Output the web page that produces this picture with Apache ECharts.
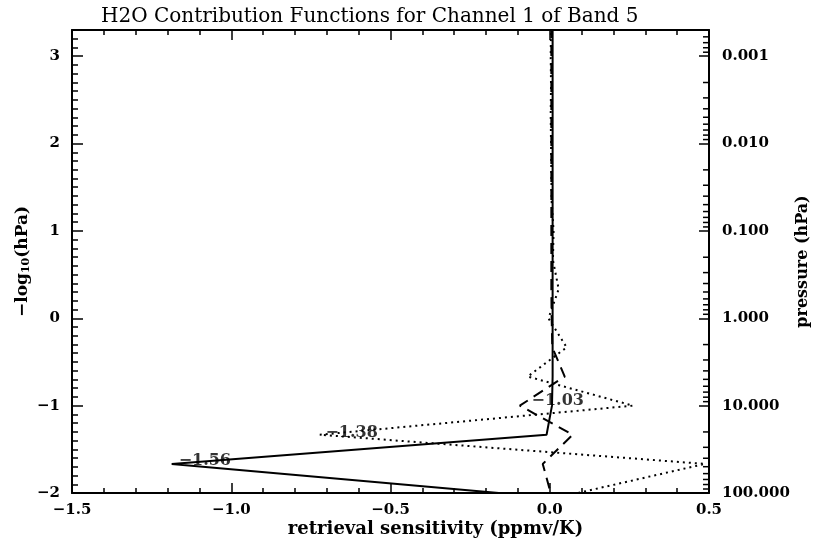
<!DOCTYPE html>
<html>
<head>
<meta charset="utf-8">
<script src="https://cdn.jsdelivr.net/npm/echarts@6/dist/echarts.min.js"></script>
<style>
  html, body { margin: 0; padding: 0; background: #fff; }
  #chart { width: 816px; height: 544px; }
</style>
</head>
<body>
<div id="chart"></div>
<script>
// -log10(p) levels, top to bottom
const levels = [3.333, 3.0, 2.667, 2.333, 2.0, 1.667, 1.333, 1.0, 0.667, 0.333, 0.0, -0.333, -0.667, -1.0, -1.333, -1.667, -2.0];

// sensitivity (ppmv/K) at each level
const solidX  = [0.009, 0.009, 0.009, 0.009, 0.009, 0.009, 0.009, 0.009, 0.009, 0.009, 0.009, 0.009, 0.009, 0.007, -0.01, -1.187, -0.16];
const dashedX = [0.005, 0.005, 0.005, 0.005, 0.005, 0.005, 0.005, 0.005, 0.005, 0.005, 0.006, 0.008, 0.047, -0.094, 0.072, -0.022, 0.003];
const dottedX = [0.004, 0.003, 0.004, 0.003, 0.004, 0.005, 0.006, 0.012, 0.01, 0.028, -0.004, 0.053, -0.069, 0.261, -0.722, 0.487, 0.088];

// peak annotations
const annoText = ['-1.56', '-1.38', '-1.03'];
const annoX = [-1.083, -0.622, 0.025];
const annoY = [-1.632, -1.31, -0.943];

const xMin = -1.5, xMax = 0.5;
const yMin = -2, yMax = 3.3;

// log minor ticks for the pressure axis (2..9 in each decade)
const pressureDecades = [0.0001, 0.001, 0.01, 0.1, 1, 10];
const logTicks = [];
pressureDecades.forEach(d => {
  for (let k = 2; k <= 9; k++) {
    const v = -Math.log10(k * d);
    if (v >= yMin && v <= yMax) logTicks.push(v);
  }
});

const minus = s => String(s).replace('-', '\u2212');
const serif = 'DejaVu Serif';
const pair = xs => xs.map((x, i) => [x, levels[i]]);

const chart = echarts.init(document.getElementById('chart'));

chart.setOption({
  backgroundColor: '#fff',
  animation: false,
  title: {
    text: 'H2O Contribution Functions for Channel 1 of Band 5',
    left: 96,
    top: 2,
    textStyle: { fontFamily: serif, fontSize: 20, fontWeight: 'normal', color: '#000' }
  },
  grid: { left: 72, right: 107, top: 30, bottom: 51, containLabel: false, outerBoundsMode: 'none' },
  xAxis: [
    {
      type: 'value', min: xMin, max: xMax, interval: 0.5, position: 'bottom',
      name: 'retrieval sensitivity (ppmv/K)', nameLocation: 'middle', nameGap: 27, nameMoveOverlap: false,
      nameTextStyle: { fontFamily: serif, fontSize: 18, fontWeight: 'bold', color: '#000', padding: [0, 0, 0, 90] },
      axisLine: { onZero: false, lineStyle: { color: '#000', width: 2 } },
      axisTick: { inside: true, length: 10, lineStyle: { color: '#000', width: 1.5 } },
      minorTick: { show: true, splitNumber: 5, length: 5, lineStyle: { color: '#000', width: 1.5 } },
      axisLabel: { fontFamily: serif, fontSize: 15, fontWeight: 'bold', color: '#000', margin: 10,
        formatter: v => minus(v.toFixed(1)) },
      splitLine: { show: false }
    },
    {
      type: 'value', min: xMin, max: xMax, interval: 0.5, position: 'top',
      axisLine: { onZero: false, lineStyle: { color: '#000', width: 2 } },
      axisTick: { inside: true, length: 10, lineStyle: { color: '#000', width: 1.5 } },
      minorTick: { show: true, splitNumber: 5, length: 5, lineStyle: { color: '#000', width: 1.5 } },
      axisLabel: { show: false },
      splitLine: { show: false }
    }
  ],
  yAxis: [
    {
      type: 'value', min: yMin, max: yMax, interval: 1, position: 'left',
      name: '\u2212log{s|10}(hPa)', nameLocation: 'middle', nameGap: 40, nameRotate: 90, nameMoveOverlap: false,
      nameTextStyle: {
        fontFamily: serif, fontSize: 17, fontWeight: 'bold', color: '#000',
        rich: { s: { fontFamily: serif, fontSize: 11, fontWeight: 'bold', color: '#000', padding: [8, 0, 0, 0] } }
      },
      axisLine: { onZero: false, lineStyle: { color: '#000', width: 2 } },
      axisTick: { inside: true, length: 11, lineStyle: { color: '#000', width: 1.5 } },
      minorTick: { show: true, splitNumber: 10, length: 6, lineStyle: { color: '#000', width: 1.5 } },
      axisLabel: { fontFamily: serif, fontSize: 15, fontWeight: 'bold', color: '#000', margin: 12,
        showMaxLabel: false, formatter: v => minus(v.toFixed(0)) },
      splitLine: { show: false }
    },
    {
      type: 'value', min: yMin, max: yMax, interval: 1, position: 'right',
      name: 'pressure (hPa)', nameLocation: 'middle', nameGap: 86, nameRotate: 90, nameMoveOverlap: false,
      nameTextStyle: { fontFamily: serif, fontSize: 16, fontWeight: 'bold', color: '#000' },
      axisLine: { onZero: false, lineStyle: { color: '#000', width: 2 } },
      axisTick: { inside: true, length: 10, lineStyle: { color: '#000', width: 1.5 } },
      axisLabel: { fontFamily: serif, fontSize: 15, fontWeight: 'bold', color: '#000', margin: 13,
        showMaxLabel: false, formatter: v => Math.pow(10, -v).toFixed(3) },
      splitLine: { show: false }
    }
  ],
  series: [
    {
      name: 'solid', type: 'line', data: pair(solidX), symbol: 'none', clip: true,
      lineStyle: { color: '#000', width: 2, type: 'solid' }
    },
    {
      name: 'dashed', type: 'line', data: pair(dashedX), symbol: 'none', clip: true,
      lineStyle: { color: '#000', width: 2, type: [11, 7] }
    },
    {
      name: 'dotted', type: 'line', data: pair(dottedX), symbol: 'none', clip: true,
      lineStyle: { color: '#000', width: 2, type: [2, 4] }
    },
    {
      name: 'labels', type: 'scatter', symbolSize: 0, silent: true,
      data: annoText.map((t, i) => [annoX[i], annoY[i], t]),
      label: {
        show: true, position: 'inside', color: '#000',
        fontFamily: serif, fontSize: 16, fontWeight: 'bold',
        formatter: p => minus(p.data[2])
      }
    },
    {
      name: 'logticks', type: 'custom', yAxisIndex: 1, silent: true,
      data: logTicks.map(v => [xMax, v]),
      renderItem: (params, api) => {
        const p = api.coord([api.value(0), api.value(1)]);
        return {
          type: 'line',
          shape: { x1: p[0], y1: p[1], x2: p[0] - 6, y2: p[1] },
          style: { stroke: '#000', lineWidth: 1.5 }
        };
      }
    }
  ]
});
</script>
</body>
</html>
